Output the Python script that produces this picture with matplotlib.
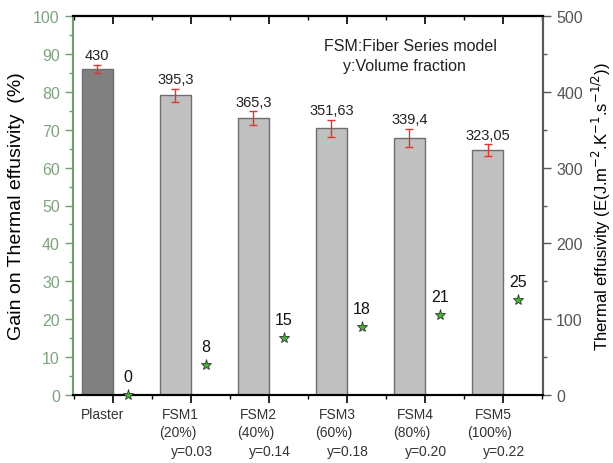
import matplotlib
matplotlib.use("Agg")
import matplotlib.pyplot as plt
import numpy as np
from matplotlib.ticker import MultipleLocator
import matplotlib.transforms as mtransforms

plt.rcParams['font.family'] = ['Liberation Sans', 'DejaVu Sans']

categories = ["Plaster", "FSM1", "FSM2", "FSM3", "FSM4", "FSM5"]
percent_labels = ["", "(20%)", "(40%)", "(60%)", "(80%)", "(100%)"]
y_labels = ["", "y=0.03", "y=0.14", "y=0.18", "y=0.20", "y=0.22"]
effusivity = [430, 395.3, 365.3, 351.63, 339.4, 323.05]
effusivity_text = ["430", "395,3", "365,3", "351,63", "339,4", "323,05"]
effusivity_err = [5.5, 9, 9, 11.5, 12, 7.5]
gain = [0, 8, 15, 18, 21, 25]

green_spine = '#6f9f6f'
green_text = '#7fa37f'
gray_spine = '#5a5a5a'

fig = plt.figure(figsize=(6.13, 4.64), dpi=100)
ax = fig.add_axes([73/613, 1-396/464, (543-73)/613, (396-17)/464])
ax2 = ax.twinx()

x = np.arange(len(categories))
bw = 0.40
colors = ['#808080'] + ['#c0c0c0'] * (len(categories) - 1)
ax2.bar(x, effusivity, width=-bw, align='edge', color=colors,
        edgecolor='#6e6e6e', linewidth=1.0, zorder=2)
ax2.errorbar(x - bw/2, effusivity, yerr=effusivity_err, fmt='none',
             ecolor='#e8332a', elinewidth=1.0, capsize=3, capthick=1.0, zorder=3)
for xi, v, e, t in zip(x, effusivity, effusivity_err, effusivity_text):
    ax2.annotate(t, (xi - bw/2, v + e), xytext=(0, 2), textcoords='offset points',
                 ha='center', va='bottom', fontsize=10.5, color='#222222')

# stars on left axis
ax.plot(x + 0.19, gain, linestyle='none', marker='*', markersize=8,
        markerfacecolor='#4caf3c', markeredgecolor='#2a3a2a', markeredgewidth=0.6,
        zorder=4, clip_on=False)
for xi, g in zip(x, gain):
    ax.annotate(str(g), (xi + 0.19, g), xytext=(0, 8), textcoords='offset points',
                ha='center', va='bottom', fontsize=11.5, color='#111111')

ax.set_zorder(ax2.get_zorder() + 1)
ax.patch.set_visible(False)

ax.set_xlim(-0.51, 5.51)
ax.set_ylim(0, 100)
ax2.set_ylim(0, 500)

ax.set_xticks(x)
ax.set_xticklabels([])
ax.xaxis.set_minor_locator(MultipleLocator(0.5))
ax.yaxis.set_major_locator(MultipleLocator(10))
ax.yaxis.set_minor_locator(MultipleLocator(5))
ax2.yaxis.set_major_locator(MultipleLocator(100))
ax2.yaxis.set_minor_locator(MultipleLocator(50))

ax.tick_params(axis='x', which='major', direction='out', length=6, width=1.2,
               top=False, bottom=True, color='black')
ax.tick_params(axis='x', which='minor', direction='out', length=3, width=1.0,
               top=False, bottom=True, color='black')

# top ticks pointing inward
secx = ax.secondary_xaxis('top')
secx.set_xticks(x)
secx.set_xticklabels([])
secx.xaxis.set_minor_locator(MultipleLocator(0.5))
secx.tick_params(axis='x', which='major', direction='in', length=6, width=1.2, color='black')
secx.tick_params(axis='x', which='minor', direction='in', length=3, width=1.0, color='black')
secx.spines['top'].set_linewidth(1.5)

ax.tick_params(axis='y', which='major', direction='out', length=6, width=1.0,
               colors=green_text, labelsize=11.5)
ax.tick_params(axis='y', which='minor', direction='out', length=3, width=1.0,
               color=green_spine)
ax.tick_params(axis='y', which='both', color=green_spine)
ax2.tick_params(axis='y', which='major', direction='out', length=6, width=1.0,
                color=gray_spine, labelcolor='#555555', labelsize=11.5)
ax2.tick_params(axis='y', which='minor', direction='out', length=3, width=1.0,
                color=gray_spine)

for a in (ax, ax2):
    a.spines['left'].set_color(green_spine)
    a.spines['left'].set_linewidth(1.5)
    a.spines['right'].set_color(gray_spine)
    a.spines['right'].set_linewidth(1.5)
    a.spines['top'].set_color('black')
    a.spines['top'].set_linewidth(1.5)
    a.spines['bottom'].set_color('black')
    a.spines['bottom'].set_linewidth(1.5)

ax.set_ylabel("Gain on Thermal effusivity  (%)", fontsize=14, color='black', labelpad=6)
ax2.set_ylabel(r"Thermal effusivity (E(J.m$^{-2}$.K$^{-1}$.s$^{-1/2}$))",
               fontsize=12, color='black', labelpad=5)

trans = mtransforms.blended_transform_factory(ax.transData, fig.transFigure)
for xi, c, p, yl in zip(x, categories, percent_labels, y_labels):
    ax.text(xi - 0.13, 1 - 415/464, c, transform=trans, ha='center', va='center',
            fontsize=10, color='#333333')
    if p:
        ax.text(xi - 0.17, 1 - 433/464, p, transform=trans, ha='center', va='center',
                fontsize=10, color='#333333')
    if yl:
        ax.text(xi + 0.01, 1 - 452/464, yl, transform=trans, ha='center', va='center',
                fontsize=10, color='#333333')

fig.text(410/613, 1 - 47/464, "FSM:Fiber Series model", ha='center', va='center',
         fontsize=11.5, color='#222222')
fig.text(404/613, 1 - 66/464, "y:Volume fraction", ha='center', va='center',
         fontsize=11.5, color='#222222')

fig.savefig("out.png", dpi=100)
